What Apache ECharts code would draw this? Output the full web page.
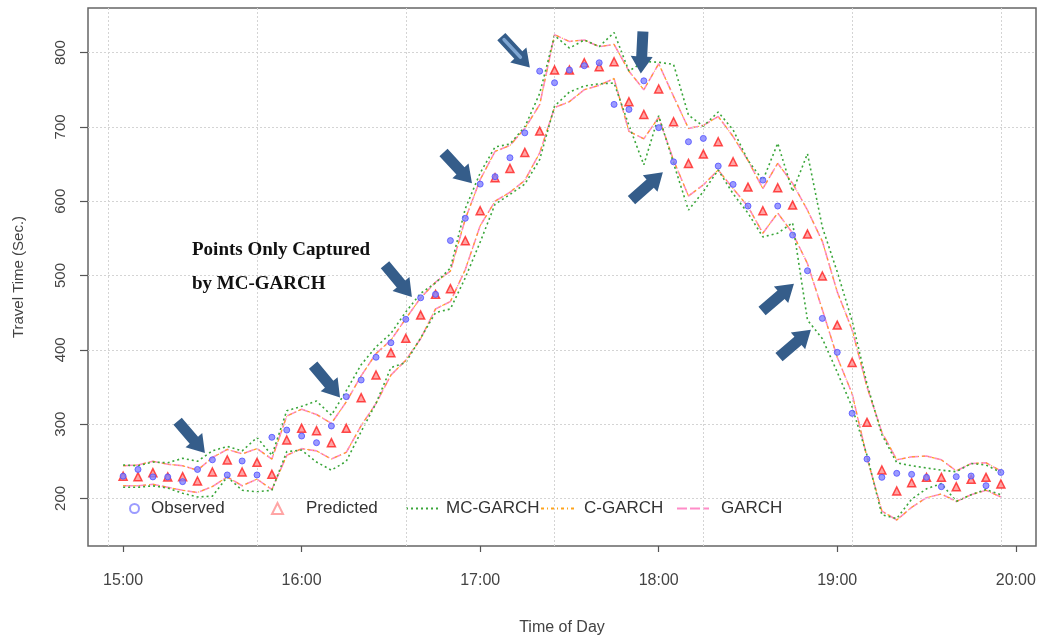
<!DOCTYPE html>
<html>
<head>
<meta charset="utf-8">
<script src="https://cdn.jsdelivr.net/npm/echarts@6/dist/echarts.min.js"></script>
<style>html,body{margin:0;padding:0;background:#fff}#c{width:1040px;height:639px}</style>
</head>
<body>
<div id="c"></div>
<script>
// 5-minute slots, 15:00 .. 19:55
const times = ['15:00','15:05','15:10','15:15','15:20','15:25','15:30','15:35','15:40','15:45','15:50','15:55',
  '16:00','16:05','16:10','16:15','16:20','16:25','16:30','16:35','16:40','16:45','16:50','16:55',
  '17:00','17:05','17:10','17:15','17:20','17:25','17:30','17:35','17:40','17:45','17:50','17:55',
  '18:00','18:05','18:10','18:15','18:20','18:25','18:30','18:35','18:40','18:45','18:50','18:55',
  '19:00','19:05','19:10','19:15','19:20','19:25','19:30','19:35','19:40','19:45','19:50','19:55'];

const observed = [230,239,229,229,222.6,239,252,231.6,250.4,231.6,282.3,292,
  284,275,297.5,337,359.4,390,409.6,441,470,474.7,547,577,
  623,633,658.5,692,775,759.4,776.5,782.3,786.3,730.3,723.5,762,
  699,653,680,684.5,647.3,622.6,593.5,628.4,593.5,554.4,506.4,442.3,
  396.6,314.5,253,228.4,233.8,232.4,228.4,215.8,229.3,230.2,217.2,235];

const predicted = [230,229.3,234.7,229,229.3,223.5,235.6,251.8,235.6,248.6,232.5,278.7,
  294.4,291.2,275.1,294.4,335.6,366.1,396.2,415.5,446.8,474.7,482.3,546.9,
  587.2,631.6,644.1,665.7,694.4,776.5,776.5,786.3,781,787.7,733.8,716.8,
  751,706.9,650.9,663.4,680,653.1,619,587.2,618.1,594.8,555.8,499.3,
  433.3,383.1,302.4,238.3,210,221.2,228.4,228.4,215.8,225.7,228.4,219.4];

const mcUpper = [245,244,249,248,254,250,264,270,264,282,258,318,
  324,331,312,345,380,404,422,451,476,490,510,590,
  638,673,677,700,745,823,806,817,808,827,775,788,
  787,784,716,701,720,696,655,628,678,613,664,565,
  505,439,354,286,248,244,241,238,236,247,245,235];
const mcLower = [215,215,217,214,207,202,203,229,211,209,211,263,
  265,249,238,250,290,328,376,383,416,450,455,497,
  545,596,609,623,656,728,747,755,758,759,702,649,
  715,651,588,613,642,610,584,552,557,571,440,415,
  370,323,258,178,173,199,213,220,196,205,212,205];

const cUpper = [244,245,250,246,244,238,255,266,260,267,253,311,
  320,313,301,330,365,395,413,442,470,491,506,576,
  629,667,675,698,730,824,815,817,808,811,775,750,
  785,741,698,702,714,687,655,617,651,624,588,546,
  478,427,350,289,252,256,257,252,237,247,248,237];
const cLower = [217,217,219,215,211,208,216,229,217,226,212,258,
  267,264,253,262,298,328,366,386,415,455,465,508,
  567,600,612,628,665,726,734,750,756,765,694,684,
  713,655,607,622,642,617,593,557,584,557,516,454,
  390,341,255,183,171,188,201,206,196,205,211,202];

const gUpper = [244,245,250,246,244,238,255,266,260,267,253,311,
  320,313,301,330,365,395,413,442,470,491,506,576,
  629,667,675,698,730,824,815,817,808,811,775,750,
  785,741,698,702,714,687,655,617,651,624,588,546,
  478,427,350,289,252,256,257,252,237,247,248,237];
const gLower = [217,217,219,215,211,208,216,229,217,226,212,258,
  267,264,253,262,298,328,366,386,415,455,465,508,
  567,600,612,628,665,726,734,750,756,765,694,684,
  713,655,607,622,642,617,593,557,584,557,516,454,
  390,341,255,183,171,188,201,206,196,205,211,202];

const hourTicks = [1,13,25,37,49,61];
const hourLabels = ['15:00','16:00','17:00','18:00','19:00','20:00'];
const yTicks = [200,300,400,500,600,700,800];
const xGrid = [0,10,20,30,40,50,60];

// annotation arrows: tip in data space, direction in screen space
const arrowTips = [[6.5,261],[15.58,336],[20.41,471],[24.45,624],[28.34,780],[35.8,772],[37.28,639],[46.09,489],[47.23,427]];
const arrowDirs = [[24,28],[25,30],[25,30],[24,26],[25,27],[-0.05,1],[27,-24],[28,-24],[28,-24]];
const highlightedArrow = 4;

const pts = arr => arr.map((v, i) => [i + 1, v]);

const chart = echarts.init(document.getElementById('c'), null, {renderer: 'canvas'});

const FONT = '"Liberation Sans", Arial, sans-serif';
const green = '#3aa63a', orange = '#ffa31a', pink = '#ff8cc8';

function bandSeries(name, data, color, type, width, z) {
  return {name, type: 'line', data: pts(data), symbol: 'none', z,
    lineStyle: {color, type, width}, itemStyle: {color}, silent: true};
}

const legendBase = {top: 500, itemHeight: 12, selectedMode: false, padding: 0,
  textStyle: {fontSize: 17, color: '#333', fontFamily: FONT}};
const lineLegend = {itemStyle: {opacity: 0}};

chart.setOption({
  animation: false,
  backgroundColor: '#fff',
  grid: {left: 88, right: 4, top: 8, bottom: 93, show: true, borderColor: '#666', borderWidth: 1.5,
    containLabel: false, outerBoundsMode: 'none'},
  xAxis: {type: 'value', min: -1.36, max: 62.36,
    axisLine: {show: false, onZero: false},
    axisTick: {show: true, customValues: hourTicks, length: 6, lineStyle: {color: '#555', width: 1.2}},
    axisLabel: {customValues: hourTicks, formatter: v => hourLabels[hourTicks.indexOf(Math.round(v))] || '',
      fontSize: 16, color: '#444', margin: 27, fontFamily: FONT},
    splitLine: {show: false},
    name: 'Time of Day', nameLocation: 'middle', nameGap: 74,
    nameTextStyle: {fontSize: 16, color: '#444', fontFamily: FONT}},
  yAxis: {type: 'value', min: 136, max: 860,
    axisLine: {show: false, onZero: false},
    axisTick: {show: true, customValues: yTicks, length: 8, lineStyle: {color: '#555', width: 1.2}},
    axisLabel: {customValues: yTicks, rotate: 90, fontSize: 15, color: '#444', margin: 20, fontFamily: FONT},
    splitLine: {show: false},
    name: 'Travel Time (Sec.)', nameLocation: 'middle', nameGap: 62,
    nameTextStyle: {fontSize: 15, color: '#444', fontFamily: FONT}},
  legend: [
    Object.assign({}, legendBase, {data: [{name: 'Observed', icon: 'emptyCircle'}], left: 129, itemWidth: 9, itemHeight: 9,
      textStyle: Object.assign({}, legendBase.textStyle, {padding: [0, 0, 0, 7]})}),
    Object.assign({}, legendBase, {data: [{name: 'Predicted', icon: 'emptyTriangle'}], left: 271, itemWidth: 11, itemHeight: 11,
      textStyle: Object.assign({}, legendBase.textStyle, {padding: [0, 0, 0, 18]})}),
    Object.assign({}, legendBase, lineLegend, {data: ['MC-GARCH'], left: 405, itemWidth: 35}),
    Object.assign({}, legendBase, lineLegend, {data: ['C-GARCH'], left: 540, itemWidth: 36,
      textStyle: Object.assign({}, legendBase.textStyle, {padding: [0, 0, 0, 2]})}),
    Object.assign({}, legendBase, lineLegend, {data: ['GARCH'], left: 676, itemWidth: 32,
      textStyle: Object.assign({}, legendBase.textStyle, {padding: [0, 0, 0, 7]})})
  ],
  series: [
    {name: 'gridlines', type: 'line', data: [], z: 0, silent: true,
      markLine: {silent: true, symbol: 'none', label: {show: false}, animation: false,
        lineStyle: {color: '#d4d4d4', type: [2, 2], width: 1},
        data: xGrid.map(v => ({xAxis: v})).concat(yTicks.map(v => ({yAxis: v})))}},
    bandSeries('GARCH', gUpper, pink, [10, 3], 1.6, 2),
    bandSeries('GARCH', gLower, pink, [10, 3], 1.6, 2),
    bandSeries('C-GARCH', cUpper, orange, [3, 3, 1, 3], 1.1, 3),
    bandSeries('C-GARCH', cLower, orange, [3, 3, 1, 3], 1.1, 3),
    bandSeries('MC-GARCH', mcUpper, green, [2, 3], 1.6, 4),
    bandSeries('MC-GARCH', mcLower, green, [2, 3], 1.6, 4),
    {name: 'Predicted', type: 'scatter', data: pts(predicted), symbol: 'triangle', symbolSize: 8, z: 5,
      itemStyle: {color: '#ff8f8f', borderColor: '#ff2020', borderWidth: 1.5}},
    {name: 'Observed', type: 'scatter', data: pts(observed), symbol: 'circle', symbolSize: 6, z: 6,
      itemStyle: {color: '#8282ff', borderColor: '#5050ff', borderWidth: 1}}
  ]
});

// arrows
const shape = [[0,0],[-17,-11],[-17,-5.5],[-42,-5.5],[-42,5.5],[-17,5.5],[-17,11]];
const graphics = [];
arrowTips.forEach((tip, k) => {
  const p = chart.convertToPixel({gridIndex: 0}, tip);
  const d = arrowDirs[k], L = Math.hypot(d[0], d[1]);
  const c = d[0] / L, s = d[1] / L;
  const tr = q => [p[0] + q[0] * c - q[1] * s, p[1] + q[0] * s + q[1] * c];
  graphics.push({type: 'polygon', shape: {points: shape.map(tr)}, style: {fill: '#355d8a'}, z: 100, silent: true});
  if (k === highlightedArrow) {
    graphics.push({type: 'polyline', shape: {points: [[-38, 0], [-14, 0]].map(tr)},
      style: {stroke: '#7fa6d2', lineWidth: 3.5, lineCap: 'round'}, z: 101, silent: true});
  }
});
graphics.push({type: 'text', left: 192, top: 233, z: 100, silent: true,
  style: {text: 'Points Only Captured\nby MC-GARCH', font: 'bold 19px "Liberation Serif", "Times New Roman", serif',
    lineHeight: 34, fill: '#111'}});
chart.setOption({graphic: graphics});
</script>
</body>
</html>
